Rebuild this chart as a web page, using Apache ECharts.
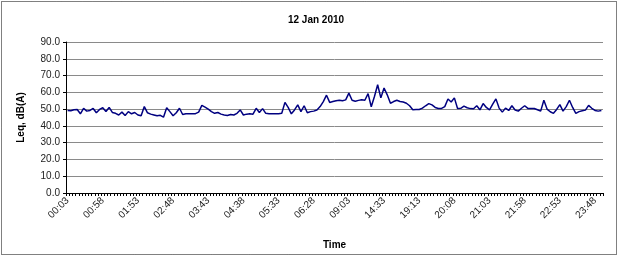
<!DOCTYPE html>
<html>
<head>
<meta charset="utf-8">
<script src="https://cdn.jsdelivr.net/npm/echarts@6/dist/echarts.min.js"></script>
<style>
html,body{margin:0;padding:0;background:#fff;}
#c{width:620px;height:257px;}
</style>
</head>
<body>
<div id="c"></div>
<script>
var titleText = '12 Jan 2010';
var yAxisName = 'Leq, dB(A)';
var xAxisName = 'Time';

var categories = [
'00:03','00:08','00:13','00:18','00:23','00:28','00:33','00:38','00:43','00:48','00:53',
'00:58','01:03','01:08','01:13','01:18','01:23','01:28','01:33','01:38','01:43','01:48',
'01:53','01:58','02:03','02:08','02:13','02:18','02:23','02:28','02:33','02:38','02:43',
'02:48','02:53','02:58','03:03','03:08','03:13','03:18','03:23','03:28','03:33','03:38',
'03:43','03:48','03:53','03:58','04:03','04:08','04:13','04:18','04:23','04:28','04:33',
'04:38','04:43','04:48','04:53','04:58','05:03','05:08','05:13','05:18','05:23','05:28',
'05:33','05:38','05:43','05:48','05:53','05:58','06:03','06:08','06:13','06:18','06:23',
'06:28','06:43','06:58','07:13','07:28','07:43','07:58','08:13','08:28','08:43','08:53',
'09:03','09:33','10:03','10:33','11:03','11:33','12:03','12:33','13:03','13:33','14:03',
'14:33','14:58','15:23','15:48','16:13','16:38','17:03','17:28','17:53','18:18','18:43',
'19:13','19:18','19:23','19:28','19:33','19:38','19:43','19:48','19:53','19:58','20:03',
'20:08','20:13','20:18','20:23','20:28','20:33','20:38','20:43','20:48','20:53','20:58',
'21:03','21:08','21:13','21:18','21:23','21:28','21:33','21:38','21:43','21:48','21:53',
'21:58','22:03','22:08','22:13','22:18','22:23','22:28','22:33','22:38','22:43','22:48',
'22:53','22:58','23:03','23:08','23:13','23:18','23:23','23:28','23:33','23:38','23:43',
'23:48','23:53','23:58'
];

var leqValues = [
49.2,49.0,49.6,49.8,47.2,50.4,48.8,49.2,50.4,47.8,49.8,
50.8,48.6,51.0,48.0,47.5,46.5,48.2,46.2,48.5,47.2,48.0,
46.5,46.0,51.5,47.8,47.0,46.5,46.0,46.3,45.2,50.8,48.5,
46.0,47.8,50.5,46.8,47.2,47.3,47.2,47.3,48.2,52.2,51.2,
50.0,48.5,47.5,48.0,47.0,46.5,46.2,46.8,46.5,47.5,49.5,
46.5,47.0,47.2,47.0,50.5,48.0,50.3,47.5,47.3,47.3,47.2,
47.3,47.5,54.0,51.0,47.2,49.5,52.5,48.5,52.0,47.8,48.5,
48.8,49.5,51.5,54.5,58.3,54.0,54.5,55.0,55.3,55.0,55.5,
59.5,55.3,54.7,55.2,55.6,55.3,59.2,51.4,57.5,64.5,56.7,
62.6,58.5,53.5,54.5,55.3,54.5,54.2,53.5,52.0,49.6,49.7,
49.8,50.6,52.0,53.3,52.5,51.0,50.4,50.4,51.5,56.0,54.2,
56.7,50.4,50.5,51.8,50.8,50.3,50.2,52.0,49.6,53.3,51.0,
49.6,53.0,56.1,50.6,48.2,50.6,49.2,52.0,49.5,48.8,50.5,
52.0,50.4,50.3,50.4,49.6,48.8,55.3,50.0,48.4,47.5,49.8,
52.7,48.8,51.5,55.3,51.0,47.5,48.5,49.0,49.4,52.2,50.5,
49.2,48.8,49.2
];

var yTicks = [0, 10, 20, 30, 40, 50, 60, 70, 80, 90];

var chart = echarts.init(document.getElementById('c'), null, {renderer: 'canvas'});
var font = 'Liberation Sans, Arial, sans-serif';

chart.setOption({
  animation: false,
  backgroundColor: '#fff',
  textStyle: {fontFamily: font},
  graphic: [{
    type: 'rect',
    shape: {x: 1.5, y: 1.5, width: 615, height: 253},
    style: {fill: 'none', stroke: '#000', lineWidth: 1, lineDash: [1, 1]},
    silent: true
  }],
  title: {
    text: titleText,
    left: 311,
    textAlign: 'center',
    top: 10,
    textStyle: {fontSize: 10, fontWeight: 'bold', color: '#000', fontFamily: font}
  },
  grid: {left: 66, right: 17, top: 42, bottom: 64, containLabel: false},
  xAxis: {
    type: 'category',
    data: categories,
    boundaryGap: true,
    name: xAxisName,
    nameLocation: 'middle',
    nameGap: 47,
    nameTextStyle: {fontSize: 10, fontWeight: 'bold', color: '#000', fontFamily: font},
    axisLine: {lineStyle: {color: '#000', width: 1}},
    axisTick: {show: true, interval: 0, length: 3, lineStyle: {color: '#000'}},
    axisLabel: {interval: 10, rotate: 45, fontSize: 10, color: '#222', margin: 6, fontFamily: font},
    splitLine: {show: false}
  },
  yAxis: {
    type: 'value',
    min: yTicks[0],
    max: yTicks[yTicks.length - 1],
    interval: 10,
    name: yAxisName,
    nameLocation: 'middle',
    nameGap: 40,
    nameTextStyle: {fontSize: 10, fontWeight: 'bold', color: '#000', fontFamily: font},
    axisLine: {show: true, lineStyle: {color: '#000', width: 1}},
    axisTick: {show: true, length: 3, lineStyle: {color: '#000'}},
    axisLabel: {fontSize: 10, color: '#222', margin: 6, fontFamily: font,
      formatter: function (v) { return v.toFixed(1); }},
    splitLine: {show: true, lineStyle: {color: '#8a8a8a', width: 1}}
  },
  series: [{
    type: 'line',
    data: leqValues,
    symbol: 'none',
    smooth: false,
    lineStyle: {color: '#000080', width: 1.5},
    itemStyle: {color: '#000080'}
  }]
});
</script>
</body>
</html>
